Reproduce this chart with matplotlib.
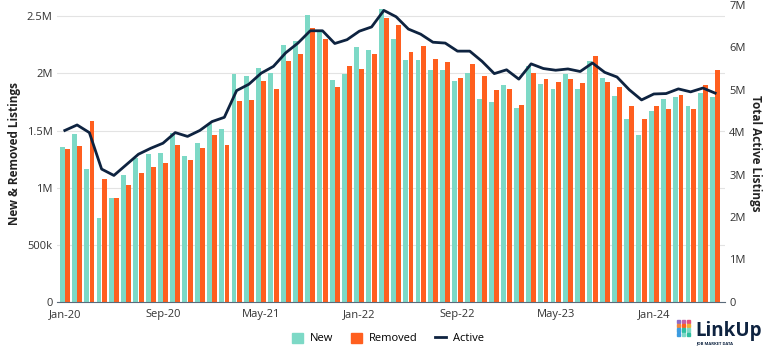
import numpy as np
import matplotlib
matplotlib.use("Agg")
import matplotlib.pyplot as plt
from matplotlib.patches import Patch, Rectangle
from matplotlib.lines import Line2D

plt.rcParams['font.family'] = ['Open Sans', 'DejaVu Sans']

# monthly data Jan-20 .. Jun-24 (millions)
months = [f"{m}-{y}" for y in range(20, 25) for m in
          ["Jan", "Feb", "Mar", "Apr", "May", "Jun", "Jul", "Aug", "Sep", "Oct", "Nov", "Dec"]][:54]

new = [1.357, 1.471, 1.167, 0.737, 0.909, 1.114, 1.263, 1.295, 1.304, 1.477, 1.281, 1.389,
       1.556, 1.512, 1.997, 1.980, 2.047, 2.003, 2.246, 2.284, 2.515, 2.368, 1.944, 1.997,
       2.228, 2.202, 2.564, 2.304, 2.120, 2.120, 2.032, 2.026, 1.930, 2.003, 1.775, 1.746,
       1.901, 1.696, 2.061, 1.906, 1.865, 1.997, 1.865, 2.111, 1.956, 1.804, 1.599, 1.462,
       1.673, 1.775, 1.795, 1.711, 1.827, 1.795]
removed = [1.339, 1.363, 1.582, 1.079, 0.909, 1.023, 1.132, 1.181, 1.219, 1.377, 1.246, 1.351,
           1.459, 1.371, 1.757, 1.766, 1.933, 1.860, 2.105, 2.170, 2.398, 2.304, 1.877, 2.067,
           2.038, 2.167, 2.482, 2.427, 2.184, 2.237, 2.126, 2.099, 1.959, 2.085, 1.980, 1.857,
           1.863, 1.722, 2.003, 1.950, 1.924, 1.953, 1.912, 2.149, 1.924, 1.877, 1.719, 1.599,
           1.719, 1.687, 1.807, 1.687, 1.895, 2.032]
active = [4.04, 4.17, 3.99, 3.13, 2.98, 3.23, 3.48, 3.62, 3.74, 3.99, 3.90, 4.04,
          4.25, 4.35, 4.98, 5.13, 5.39, 5.55, 5.87, 6.10, 6.39, 6.39, 6.09, 6.18,
          6.38, 6.48, 6.87, 6.72, 6.43, 6.31, 6.12, 6.10, 5.91, 5.91, 5.67, 5.38,
          5.47, 5.25, 5.61, 5.50, 5.46, 5.49, 5.43, 5.63, 5.41, 5.30, 5.00, 4.76,
          4.90, 4.91, 5.02, 4.95, 5.04, 4.92]

teal = '#7DD9C6'
orange = '#FF5F1F'
navy = '#0E2340'

x = np.arange(len(months))
fig = plt.figure(figsize=(7.68, 3.49), dpi=100)
ax = fig.add_axes([0.074, 0.135, 0.870, 0.851])
w = 0.40
ax.bar(x - 0.215, np.array(new) * 1e6, width=w, color=teal, zorder=2)
ax.bar(x + 0.215, np.array(removed) * 1e6, width=w, color=orange, zorder=2)
ax.set_ylim(0, 2.6e6)
ax.set_xlim(-0.65, 53.8)
ax.set_yticks([0, 0.5e6, 1e6, 1.5e6, 2e6, 2.5e6])
ax.set_yticklabels(['0', '500k', '1M', '1.5M', '2M', '2.5M'])
ax.grid(axis='y', color='#e3e3e3', linewidth=0.8, zorder=0)
ax.set_axisbelow(True)
ax.set_xticks(x[::8])
ax.set_xticklabels(months[::8])
for s in ['top', 'left', 'right']:
    ax.spines[s].set_visible(False)
ax.spines['bottom'].set_color('#5a6a7a')
ax.tick_params(length=0, labelsize=8, colors='#333333', pad=3)
ax.tick_params(axis='x', pad=5)
ax.set_ylabel('New & Removed Listings', fontsize=8.5, fontweight='bold', color='#222222')

ax2 = ax.twinx()
ax2.plot(x, np.array(active) * 1e6, color=navy, linewidth=2, zorder=3)
ax2.set_ylim(0, 7e6)
ax2.set_yticks(np.arange(0, 8) * 1e6)
ax2.set_yticklabels(['0'] + [f'{i}M' for i in range(1, 8)])
for s in ['top', 'left', 'right', 'bottom']:
    ax2.spines[s].set_visible(False)
ax2.tick_params(length=0, labelsize=8, colors='#333333', pad=3)
ax2.set_ylabel('Total Active Listings', fontsize=8.5, fontweight='bold', color='#222222',
               rotation=-90, labelpad=12)

handles = [Patch(color=teal, label='New'), Patch(color=orange, label='Removed'),
           Line2D([], [], color=navy, linewidth=2, label='Active')]
fig.legend(handles=handles, loc='center', bbox_to_anchor=(0.505, 0.03), ncol=3,
           frameon=False, fontsize=8, handlelength=1.0, handleheight=1.0,
           columnspacing=1.6, handletextpad=0.6)

# LinkUp logo
dot_colors = [['#8E6CC8', '#C25FA8', '#E8507A'],
              ['#F2863A', '#FF5F1F', '#F2B134'],
              ['#3C9BE0', '#2FBFA0', '#7DD9C6'],
              ['#3C9BE0', '#7DD9C6', '#2FBFA0']]
for r in range(4):
    for c in range(3):
        fig.patches.append(Rectangle((0.881 + c * 0.0065, 0.075 - r * 0.0125), 0.0045, 0.009,
                                     transform=fig.transFigure, color=dot_colors[r][c]))
fig.text(0.906, 0.052, 'LinkUp', fontsize=13.5, fontweight='bold', color=navy, va='center')
fig.text(0.907, 0.017, 'JOB MARKET DATA', fontsize=3, fontweight='bold', color=navy, va='center')

fig.savefig('out.png', dpi=100)
